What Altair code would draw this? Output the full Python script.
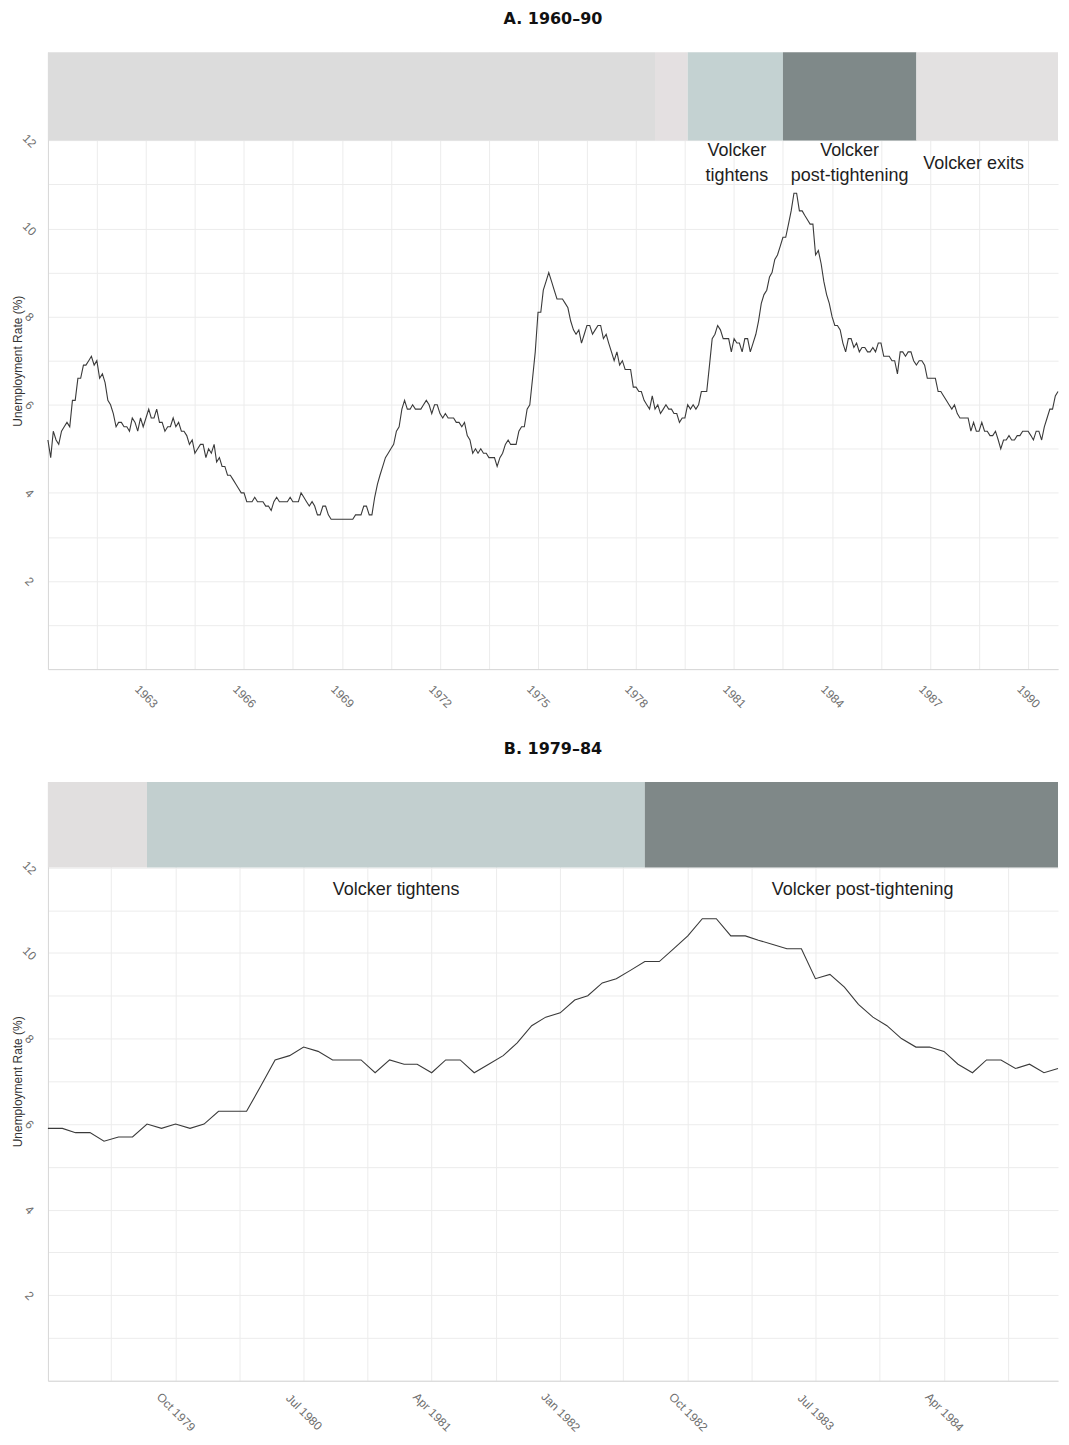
import altair as alt
import pandas as pd

# ---- monthly US unemployment rate (%), Jan..Dec of each year ----
rates_1960s = [
    5.2, 4.8, 5.4, 5.2, 5.1, 5.4, 5.5, 5.6, 5.5, 6.1, 6.1, 6.6,   # 1960
    6.6, 6.9, 6.9, 7.0, 7.1, 6.9, 7.0, 6.6, 6.7, 6.5, 6.1, 6.0,   # 1961
    5.8, 5.5, 5.6, 5.6, 5.5, 5.5, 5.4, 5.7, 5.6, 5.4, 5.7, 5.5,   # 1962
    5.7, 5.9, 5.7, 5.7, 5.9, 5.6, 5.6, 5.4, 5.5, 5.5, 5.7, 5.5,   # 1963
    5.6, 5.4, 5.4, 5.3, 5.1, 5.2, 4.9, 5.0, 5.1, 5.1, 4.8, 5.0,   # 1964
    4.9, 5.1, 4.7, 4.8, 4.6, 4.6, 4.4, 4.4, 4.3, 4.2, 4.1, 4.0,   # 1965
    4.0, 3.8, 3.8, 3.8, 3.9, 3.8, 3.8, 3.8, 3.7, 3.7, 3.6, 3.8,   # 1966
    3.9, 3.8, 3.8, 3.8, 3.8, 3.9, 3.8, 3.8, 3.8, 4.0, 3.9, 3.8,   # 1967
    3.7, 3.8, 3.7, 3.5, 3.5, 3.7, 3.7, 3.5, 3.4, 3.4, 3.4, 3.4,   # 1968
    3.4, 3.4, 3.4, 3.4, 3.4, 3.5, 3.5, 3.5, 3.7, 3.7, 3.5, 3.5,   # 1969
]
rates_1970s = [
    3.9, 4.2, 4.4, 4.6, 4.8, 4.9, 5.0, 5.1, 5.4, 5.5, 5.9, 6.1,   # 1970
    5.9, 5.9, 6.0, 5.9, 5.9, 5.9, 6.0, 6.1, 6.0, 5.8, 6.0, 6.0,   # 1971
    5.8, 5.7, 5.8, 5.7, 5.7, 5.7, 5.6, 5.6, 5.5, 5.6, 5.3, 5.2,   # 1972
    4.9, 5.0, 4.9, 5.0, 4.9, 4.9, 4.8, 4.8, 4.8, 4.6, 4.8, 4.9,   # 1973
    5.1, 5.2, 5.1, 5.1, 5.1, 5.4, 5.5, 5.5, 5.9, 6.0, 6.6, 7.2,   # 1974
    8.1, 8.1, 8.6, 8.8, 9.0, 8.8, 8.6, 8.4, 8.4, 8.4, 8.3, 8.2,   # 1975
    7.9, 7.7, 7.6, 7.7, 7.4, 7.6, 7.8, 7.8, 7.6, 7.7, 7.8, 7.8,   # 1976
    7.5, 7.6, 7.4, 7.2, 7.0, 7.2, 6.9, 7.0, 6.8, 6.8, 6.8, 6.4,   # 1977
    6.4, 6.3, 6.3, 6.1, 6.0, 5.9, 6.2, 5.9, 6.0, 5.8, 5.9, 6.0,   # 1978
    5.9, 5.9, 5.8, 5.8, 5.6, 5.7, 5.7, 6.0, 5.9, 6.0, 5.9, 6.0,   # 1979
]
rates_1980s = [
    6.3, 6.3, 6.3, 6.9, 7.5, 7.6, 7.8, 7.7, 7.5, 7.5, 7.5, 7.2,   # 1980
    7.5, 7.4, 7.4, 7.2, 7.5, 7.5, 7.2, 7.4, 7.6, 7.9, 8.3, 8.5,   # 1981
    8.6, 8.9, 9.0, 9.3, 9.4, 9.6, 9.8, 9.8, 10.1, 10.4, 10.8, 10.8,  # 1982
    10.4, 10.4, 10.3, 10.2, 10.1, 10.1, 9.4, 9.5, 9.2, 8.8, 8.5, 8.3,  # 1983
    8.0, 7.8, 7.8, 7.7, 7.4, 7.2, 7.5, 7.5, 7.3, 7.4, 7.2, 7.3,   # 1984
    7.3, 7.2, 7.2, 7.3, 7.2, 7.4, 7.4, 7.1, 7.1, 7.1, 7.0, 7.0,   # 1985
    6.7, 7.2, 7.2, 7.1, 7.2, 7.2, 7.0, 6.9, 7.0, 7.0, 6.9, 6.6,   # 1986
    6.6, 6.6, 6.6, 6.3, 6.3, 6.2, 6.1, 6.0, 5.9, 6.0, 5.8, 5.7,   # 1987
    5.7, 5.7, 5.7, 5.4, 5.6, 5.4, 5.4, 5.6, 5.4, 5.4, 5.3, 5.3,   # 1988
    5.4, 5.2, 5.0, 5.2, 5.2, 5.3, 5.2, 5.2, 5.3, 5.3, 5.4, 5.4,   # 1989
]
rates_1990 = [5.4, 5.3, 5.2, 5.4, 5.4, 5.2, 5.5, 5.7, 5.9, 5.9, 6.2, 6.3]

# ---- shaded periods ----
bandA_names = ["Pre-Volcker", "Miller", "Volcker tightens", "Volcker post-tightening", "Volcker exits"]
bandA_start = ["1960-01-01", "1978-08-01", "1979-08-01", "1982-07-01", "1986-08-01"]
bandA_end = ["1978-08-01", "1979-08-01", "1982-07-01", "1986-08-01", "1990-12-01"]
bandA_color = ["#dcdcdc", "#e4e0e1", "#c4d2d2", "#7f8989", "#e3e1e1"]

bandB_names = ["Pre-Volcker", "Volcker tightens", "Volcker post-tightening"]
bandB_start = ["1979-01-01", "1979-08-01", "1982-07-01"]
bandB_end = ["1979-08-01", "1982-07-01", "1984-12-01"]
bandB_color = ["#e1dfdf", "#c2cfcf", "#7f8888"]

# ---- annotations ----
labA_text = ["Volcker\ntightens", "Volcker\npost-tightening", "Volcker exits"]
labA_date = ["1981-02-01", "1984-07-15", "1988-05-01"]
labA_y = [11.77, 11.77, 11.47]
labB_text = ["Volcker tightens", "Volcker post-tightening"]
labB_date = ["1981-01-15", "1983-10-10"]
labB_y = [11.47, 11.47]

# ---- axis ticks ----
majorA_years = [1963, 1966, 1969, 1972, 1975, 1978, 1981, 1984, 1987, 1990]
minorA_years = [1961, 1964, 1967, 1970, 1973, 1976, 1979, 1982, 1985, 1988]  # July of these
majorB = [(1979, 10), (1980, 7), (1981, 4), (1982, 1), (1982, 10), (1983, 7), (1984, 4)]
minorB = [(1979, 5, 16), (1980, 2, 15), (1980, 11, 15), (1981, 8, 16), (1982, 5, 16),
          (1983, 2, 15), (1983, 11, 15), (1984, 8, 16)]
y_grid = list(range(0, 13))

rates = rates_1960s + rates_1970s + rates_1980s + rates_1990
dates = pd.date_range("1960-01-01", periods=len(rates), freq="MS")
df = pd.DataFrame({"date": dates, "rate": rates})
dfB = df[(df["date"] >= "1979-01-01") & (df["date"] <= "1984-12-01")]

bandsA = pd.DataFrame({"period": bandA_names, "start": pd.to_datetime(bandA_start),
                       "end": pd.to_datetime(bandA_end), "color": bandA_color,
                       "lo": 12.0, "hi": 14.0})
bandsB = pd.DataFrame({"period": bandB_names, "start": pd.to_datetime(bandB_start),
                       "end": pd.to_datetime(bandB_end), "color": bandB_color,
                       "lo": 12.0, "hi": 14.0})
labsA = pd.DataFrame({"text": labA_text, "date": pd.to_datetime(labA_date), "y": labA_y})
labsB = pd.DataFrame({"text": labB_text, "date": pd.to_datetime(labB_date), "y": labB_y})

ticksA = sorted([alt.DateTime(year=y, month=1, date=1) for y in majorA_years] +
                [alt.DateTime(year=y, month=7, date=1) for y in minorA_years],
                key=lambda d: (d.year, d.month))
ticksB = sorted([alt.DateTime(year=y, month=m, date=1) for y, m in majorB] +
                [alt.DateTime(year=y, month=m, date=d) for y, m, d in minorB],
                key=lambda d: (d.year, d.month, d.date))

GRID = "#ececec"
DOMAIN = "#d6d6d6"
PLOT_W = 1012

y_axis = alt.Axis(values=y_grid, title="Unemployment Rate (%)",
                  labelExpr="datum.value % 2 == 0 && datum.value > 0 ? datum.label : ''",
                  labelAngle=45, labelAlign="center", labelBaseline="middle",
                  labelPadding=19, ticks=False, tickSize=0, grid=True,
                  gridColor=GRID, domainColor=DOMAIN, labelColor="#6e6e6e",
                  labelFontSize=12, labelFont="Liberation Sans",
                  titleFont="Liberation Sans", titleFontSize=12, titleFontWeight="normal",
                  titleColor="#333333", titlePadding=-4)


def panel(data, bands, labs, domain, ticks, label_expr, height, title, lab_pad):
    xscale = alt.Scale(domain=domain, nice=False)
    yscale = alt.Scale(domain=[0, 14], nice=False)
    x_axis = alt.Axis(values=ticks, labelExpr=label_expr, title=None,
                      labelAngle=45, labelAlign="center", labelBaseline="middle",
                      labelPadding=lab_pad, ticks=False, tickSize=0, grid=True,
                      gridColor=GRID, domainColor=DOMAIN, labelColor="#6e6e6e",
                      labelFontSize=12, labelFont="Liberation Sans", labelOverlap=False,
                      labelFlush=False)
    line = alt.Chart(data).mark_line(color="#3a3a3a", strokeWidth=1.1).encode(
        x=alt.X("date:T", scale=xscale, axis=x_axis),
        y=alt.Y("rate:Q", scale=yscale, axis=y_axis),
    )
    rect = alt.Chart(bands).mark_rect().encode(
        x="start:T", x2="end:T", y="lo:Q", y2="hi:Q",
        color=alt.Color("color:N", scale=None),
    )
    text = alt.Chart(labs).mark_text(font="Liberation Sans", fontSize=18, color="#1e1e1e",
                                     lineBreak="\n", lineHeight=26, align="center",
                                     baseline="middle").encode(
        x="date:T", y="y:Q", text="text:N")
    return alt.layer(line, rect, text).properties(
        width=PLOT_W, height=height,
        title=alt.TitleParams(title, font="DejaVu Sans", fontSize=16, fontWeight="bold",
                              color="#111111", anchor="middle", offset=25))


A = panel(df, bandsA, labsA,
          [alt.DateTime(year=1960, month=1, date=1), alt.DateTime(year=1990, month=12, date=1)],
          ticksA, "month(datum.value) == 0 ? timeFormat(datum.value, '%Y') : ''",
          618, "A. 1960–90", 27)
B = panel(dfB, bandsB, labsB,
          [alt.DateTime(year=1979, month=1, date=1), alt.DateTime(year=1984, month=12, date=1)],
          ticksB, "date(datum.value) == 1 ? timeFormat(datum.value, '%b %Y') : ''",
          600, "B. 1979–84", 31)

chart = alt.vconcat(A, B, spacing=31).properties(
    padding={"left": 3, "top": 2, "right": 0, "bottom": 0}
).configure_view(stroke=None)

chart.save("out.html", embed_options={"renderer": "svg", "actions": False})
